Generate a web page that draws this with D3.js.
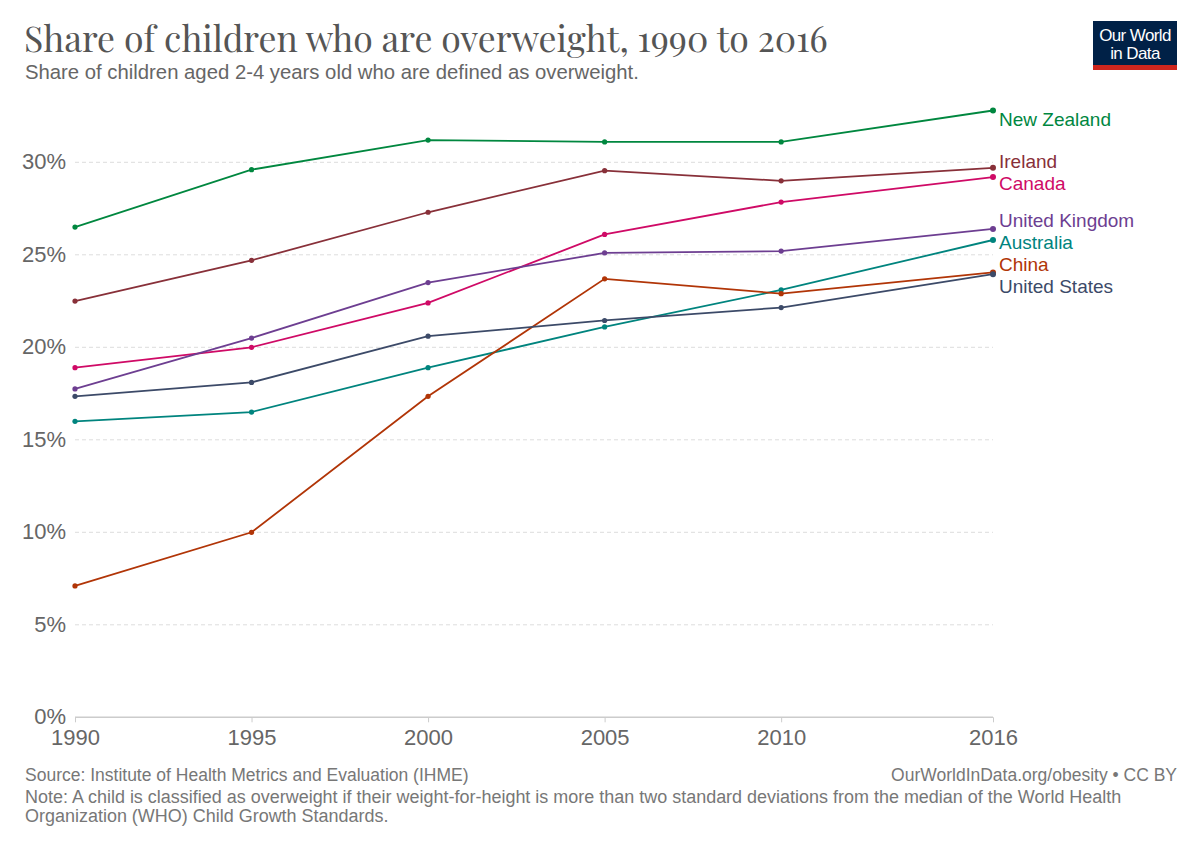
<!DOCTYPE html>
<html>
<head>
<meta charset="utf-8">
<style>
  body { margin: 0; background: white; }
  text { font-family: "Liberation Sans", Arial, sans-serif; }
</style>
</head>
<body>
<script src="https://d3js.org/d3.v7.min.js"></script>
<script>

// data (share of children 2-4 overweight, %)
var years = [1990, 1995, 2000, 2005, 2010, 2016];
var countries = ["New Zealand", "Ireland", "Canada", "United Kingdom", "Australia", "China", "United States"];
var newZealand   = [26.5, 29.6, 31.2, 31.1, 31.1, 32.8];
var ireland      = [22.5, 24.7, 27.3, 29.55, 29.0, 29.7];
var canada       = [18.9, 20.0, 22.4, 26.1, 27.85, 29.2];
var unitedKingdom= [17.75, 20.5, 23.5, 25.1, 25.2, 26.4];
var australia    = [16.0, 16.5, 18.9, 21.1, 23.1, 25.8];
var china        = [7.1, 10.0, 17.35, 23.7, 22.9, 24.05];
var unitedStates = [17.35, 18.1, 20.6, 21.45, 22.15, 23.95];
var colors = ["#00873f", "#883039", "#cf0a66", "#6d3e91", "#00847e", "#b13507", "#3c4a68"];
var yTicks = [0, 5, 10, 15, 20, 25, 30];

var allValues = [newZealand, ireland, canada, unitedKingdom, australia, china, unitedStates];
var series = countries.map(function(c, i) {
  return { name: c, color: colors[i],
    values: years.map(function(yr, j) { return { year: yr, value: allValues[i][j] }; }) };
});

var width = 1200, height = 847;

var svg = d3.select("body").append("svg")
  .attr("width", width)
  .attr("height", height);

var x = d3.scaleLinear().domain([1990, 2016]).range([75, 993]);
var y = d3.scaleLinear().domain([0, 30]).range([717.3, 162.3]);

// shrink/grow a text's font so it spans the given width
function fit(sel, size, w) {
  var tw = sel.node().getComputedTextLength();
  sel.style("font-size", (size * w / tw) + "px");
  return sel;
}

// title
var title = svg.append("text")
  .attr("x", 24).attr("y", 52)
  .style("font-family", "'Playfair Display', 'Liberation Serif', 'DejaVu Serif', serif")
  .style("font-size", "36px")
  .style("fill", "#555")
  .text("Share of children who are overweight, 1990 to 2016");
fit(title, 36, 804);

var sub = svg.append("text")
  .attr("x", 25).attr("y", 79)
  .style("font-size", "17px")
  .style("fill", "#666")
  .text("Share of children aged 2-4 years old who are defined as overweight.");
fit(sub, 17, 614);

// logo
var logo = svg.append("g").attr("transform", "translate(1093,21)");
logo.append("rect").attr("width", 84).attr("height", 49).attr("fill", "#002147");
logo.append("rect").attr("y", 44).attr("width", 84).attr("height", 5).attr("fill", "#ce261e");
logo.append("text").attr("x", 42).attr("y", 19.5).attr("text-anchor", "middle")
  .style("font-size", "17px").style("fill", "white").style("letter-spacing", "-0.6px").text("Our World");
logo.append("text").attr("x", 42).attr("y", 38).attr("text-anchor", "middle")
  .style("font-size", "17px").style("fill", "white").style("letter-spacing", "-0.6px").text("in Data");

// gridlines
svg.append("g").selectAll("line")
  .data(yTicks.filter(function(d) { return d > 0; }))
  .enter().append("line")
  .attr("x1", x(1990)).attr("x2", x(2016))
  .attr("y1", function(d) { return y(d); })
  .attr("y2", function(d) { return y(d); })
  .attr("stroke", "#ddd")
  .attr("stroke-dasharray", "4,3");

// y axis labels
svg.append("g").selectAll("text")
  .data(yTicks).enter().append("text")
  .attr("x", 66)
  .attr("y", function(d) { return y(d) + 7; })
  .attr("text-anchor", "end")
  .style("font-size", "22px")
  .style("fill", "#666")
  .text(function(d) { return d + "%"; });

// x axis
var xAxis = d3.axisBottom(x)
  .tickValues(years)
  .tickFormat(d3.format("d"))
  .tickSize(5)
  .tickPadding(7);
var gx = svg.append("g")
  .attr("transform", "translate(0," + y(0) + ")")
  .call(xAxis);
gx.select(".domain").attr("stroke", "#ccc").attr("stroke-width", 1.5).attr("d", "M" + x(1990) + ",0H" + x(2016));
gx.selectAll(".tick line").attr("stroke", "#ccc");
gx.selectAll(".tick text")
  .style("font-family", "'Liberation Sans', Arial, sans-serif")
  .style("font-size", "22px")
  .style("fill", "#666");

// lines
var line = d3.line()
  .x(function(d) { return x(d.year); })
  .y(function(d) { return y(d.value); });

var g = svg.append("g").selectAll("g")
  .data(series).enter().append("g");

g.append("path")
  .attr("d", function(d) { return line(d.values); })
  .attr("fill", "none")
  .attr("stroke", function(d) { return d.color; })
  .attr("stroke-width", 1.8);

g.selectAll("circle")
  .data(function(d) { return d.values.map(function(v) { return { v: v, color: d.color }; }); })
  .enter().append("circle")
  .attr("cx", function(d) { return x(d.v.year); })
  .attr("cy", function(d) { return y(d.v.value); })
  .attr("r", function(d) { return d.v.year === 2016 ? 3 : 2.6; })
  .attr("fill", function(d) { return d.color; });

// end labels with simple overlap resolution (merge groups)
var spacing = 22;
var labels = series.map(function(s) {
  return { name: s.name, color: s.color, target: y(s.values[s.values.length - 1].value) };
}).sort(function(a, b) { return a.target - b.target; });

var groups = labels.map(function(l) { return { items: [l], mean: l.target }; });
var merged = true;
while (merged) {
  merged = false;
  for (var i = 0; i < groups.length - 1; i++) {
    var a = groups[i], b = groups[i + 1];
    var aBottom = a.mean + (a.items.length - 1) * spacing / 2;
    var bTop = b.mean - (b.items.length - 1) * spacing / 2;
    if (bTop - aBottom < spacing) {
      var items = a.items.concat(b.items);
      groups.splice(i, 2, { items: items, mean: d3.mean(items, function(d) { return d.target; }) });
      merged = true;
      break;
    }
  }
}
groups.forEach(function(gr) {
  var top = gr.mean - (gr.items.length - 1) * spacing / 2;
  top = Math.max(top, 119);
  gr.items.forEach(function(it, k) { it.pos = top + k * spacing; });
});

svg.append("g").selectAll("text")
  .data(labels).enter().append("text")
  .attr("x", 999)
  .attr("y", function(d) { return d.pos + 6.5; })
  .style("font-size", "19px")
  .style("fill", function(d) { return d.color; })
  .text(function(d) { return d.name; });

// footer
var fs = 17.5;
var foot = svg.append("g").style("font-size", fs + "px").style("fill", "#777");
foot.append("text").attr("x", 25).attr("y", 781)
  .text("Source: Institute of Health Metrics and Evaluation (IHME)");
var lic = foot.append("text").attr("x", 1177).attr("y", 781).attr("text-anchor", "end")
  .text("OurWorldInData.org/obesity • CC BY");
var note = foot.append("text").attr("x", 25).attr("y", 803)
  .text("Note: A child is classified as overweight if their weight-for-height is more than two standard deviations from the median of the World Health");
fit(note, fs, 1097);
foot.append("text").attr("x", 25).attr("y", 822)
  .style("font-size", note.style("font-size"))
  .text("Organization (WHO) Child Growth Standards.");

</script>
</body>
</html>
